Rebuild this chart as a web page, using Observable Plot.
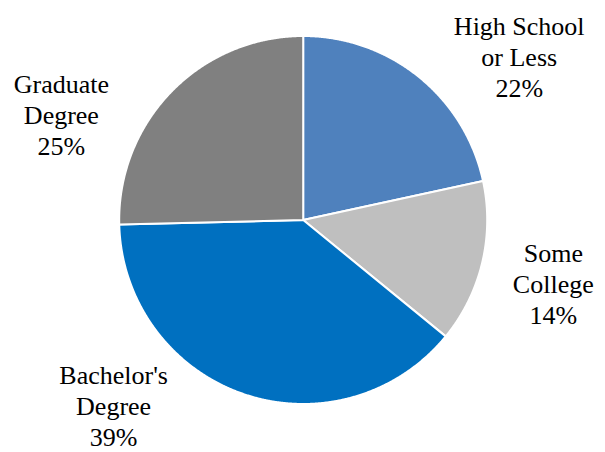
<!DOCTYPE html>
<html>
<head>
<meta charset="utf-8">
<script src="https://cdn.jsdelivr.net/npm/d3@7"></script>
<script src="https://cdn.jsdelivr.net/npm/@observablehq/plot@0.6"></script>
<style>
  html, body { margin: 0; padding: 0; background: #fff; }
  #chart { position: relative; z-index: 1; }
  #chart svg { display: block; background: #fff; }
  #warm { position: absolute; left: 140px; top: 150px; z-index: 0; color: #fff; font-family: "Liberation Serif"; }
</style>
</head>
<body>
<div id="chart"></div>
<div id="warm"><span style="font-size:26px">Bachelor's</span><br><span style="font-size:24px">Degree</span></div>
<script>
// ---- data ----
const categories = ["High School\nor Less", "Some\nCollege", "Bachelor's\nDegree", "Graduate\nDegree"];
const shares = [21.6, 14.3, 38.7, 25.4];
const colors = ["#4F81BD", "#BFBFBF", "#0070C0", "#808080"];

// ---- layout (label placement, polar: degrees clockwise from top, radius as fraction of pie radius) ----
const labelAngle = [53, 104.5, 225.4, 293.4];
const labelRadius = [1.47, 1.404, 1.447, 1.432];
const lineSpacing = 31; // px between label lines

const W = 605, H = 452;
const cx = 302.7, cy = 219.5, R = 184; // pixel geometry of the pie

const pie = d3.pie().sort(null).value(d => d)(shares);

const slices = [];
pie.forEach((a, i) => {
  const name = categories[i];
  slices.push({name, x: 0, y: 0});
  const n = Math.max(2, Math.ceil((a.endAngle - a.startAngle) / (Math.PI / 720)));
  for (let k = 0; k <= n; k++) {
    const t = a.startAngle + (a.endAngle - a.startAngle) * k / n;
    slices.push({name, x: Math.sin(t), y: Math.cos(t)});
  }
  slices.push({name, x: 0, y: 0});
});

const labelLines = [];
categories.forEach((c, i) => {
  const t = labelAngle[i] * Math.PI / 180;
  const lx = labelRadius[i] * Math.sin(t), ly = labelRadius[i] * Math.cos(t);
  const lines = [...c.split("\n"), `${Math.round(shares[i])}%`];
  const n = lines.length;
  lines.forEach((s, j) => {
    labelLines.push({text: s, x: lx, y: ly + ((n - 1) / 2 - j) * lineSpacing / R});
  });
});

const chart = Plot.plot({
  width: W,
  height: H,
  margin: 0,
  x: {domain: [-cx / R, (W - cx) / R], axis: null},
  y: {domain: [-(H - cy) / R, cy / R], axis: null},
  color: {domain: categories, range: colors},
  marks: [
    Plot.line(slices, {x: "x", y: "y", z: "name", fill: "name", stroke: "#fff", strokeWidth: 2, strokeLinejoin: "round", curve: "linear"}),
    Plot.text(labelLines, {x: "x", y: "y", text: "text", fontSize: 26, fontFamily: "Liberation Serif", fill: "black", textAnchor: "middle", lineAnchor: "middle"})
  ]
});

document.getElementById("chart").appendChild(chart);
const t0 = chart.querySelector("text");
if (t0) { getComputedStyle(t0).fontFamily; getComputedStyle(t0).fontSize; }
</script>
</body>
</html>
